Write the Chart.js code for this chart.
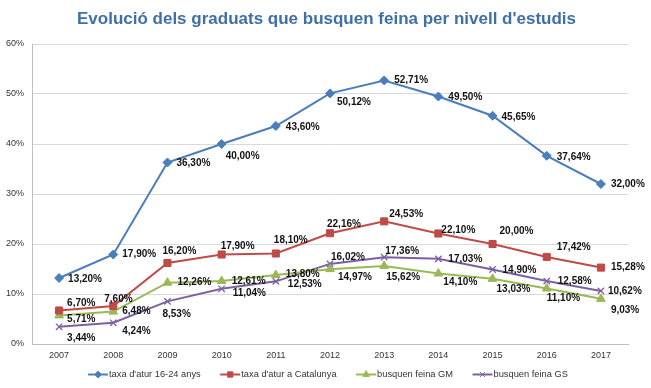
<!DOCTYPE html>
<html>
<head>
<meta charset="utf-8">
<script src="https://cdn.jsdelivr.net/npm/chart.js@4/dist/chart.umd.min.js"></script>
<style>
  html, body { margin: 0; padding: 0; background: #ffffff; }
  #wrap { width: 651px; height: 388px; position: relative; }
</style>
</head>
<body>
<div id="wrap"><canvas id="c" width="651" height="388"></canvas></div>
<script>
// ---- data ----
const years = ['2007','2008','2009','2010','2011','2012','2013','2014','2015','2016','2017'];
const atur1624 = [13.20, 17.90, 36.30, 40.00, 43.60, 50.12, 52.71, 49.50, 45.65, 37.64, 32.00];
const aturCat  = [6.70, 7.60, 16.20, 17.90, 18.10, 22.16, 24.53, 22.10, 20.00, 17.42, 15.28];
const feinaGM  = [5.71, 6.48, 12.26, 12.61, 13.80, 14.97, 15.62, 14.10, 13.03, 11.10, 9.03];
const feinaGS  = [3.44, 4.24, 8.53, 11.04, 12.53, 16.02, 17.36, 17.03, 14.90, 12.58, 10.62];
const seriesNames = ["taxa d'atur 16-24 anys", "taxa d'atur a Catalunya", "busquen feina GM", "busquen feina GS"];
const titleText = "Evolució dels graduats que busquen feina per nivell d'estudis";

// ---- label placement (style only: offset of label left edge / vertical centre from its point) ----
const labelOffsets = [
  [[9,1],[9,0],[9,1],[4,12],[10,1],[7,9],[10,0],[10,1],[9,1],[10,1],[10,0]],
  [[8,-7],[-9,-7],[-5,-12],[-1,-8],[-2,-13],[-3,-9],[5,-7],[3,-3],[7,-13],[10,-10],[10,0]],
  [[8,4],[9,0],[10,0],[10,0],[10,-1],[8,8],[2,11],[5,9],[4,10],[0,10],[10,11]],
  [[8,11],[9,8],[-5,13],[11,4],[12,3],[1,-7],[1,-6],[10,0],[10,1],[11,0],[7,0]]
];

const colors = ['#4a7ebb', '#be4b48', '#98b954', '#7d60a0'];
const pointStyles = ['rectRot', 'rect', 'triangle', 'crossRot'];
const pointRadii = [4.5, 5, 5, 4.5];
const seriesData = [atur1624, aturCat, feinaGM, feinaGS];

function fmt(v) { return v.toFixed(2).replace('.', ',') + '%'; }

const titlePlugin = {
  id: 'centredTitle',
  afterDraw(chart) {
    const ctx = chart.ctx;
    ctx.save();
    ctx.font = 'bold 17px "Liberation Sans", Arial, sans-serif';
    ctx.fillStyle = '#3f6fa8';
    ctx.textAlign = 'center';
    ctx.textBaseline = 'alphabetic';
    ctx.fillText(titleText, 326.5, 23.5);
    ctx.restore();
  }
};

const labelsPlugin = {
  id: 'pointLabels',
  afterDatasetsDraw(chart) {
    const ctx = chart.ctx;
    ctx.save();
    ctx.font = 'bold 10px "Liberation Sans", Arial, sans-serif';
    ctx.fillStyle = '#111111';
    ctx.textAlign = 'left';
    ctx.textBaseline = 'middle';
    chart.data.datasets.forEach((ds, di) => {
      const meta = chart.getDatasetMeta(di);
      meta.data.forEach((pt, i) => {
        const off = labelOffsets[di][i];
        ctx.fillText(fmt(ds.data[i]), pt.x + off[0], pt.y + off[1]);
      });
    });
    ctx.restore();
  }
};

const legendPlugin = {
  id: 'lineLegend',
  afterDraw(chart) {
    const ctx = chart.ctx;
    ctx.save();
    ctx.font = '9.3px "Liberation Sans", Arial, sans-serif';
    const sample = 20, gap = 19.5;
    const widths = chart.data.datasets.map(ds => ctx.measureText(ds.label).width);
    const total = widths.reduce((a, w) => a + sample + 1 + w, 0) + gap * (widths.length - 1);
    let x = 328 - total / 2;
    const y = 374.5;
    chart.data.datasets.forEach((ds, i) => {
      ctx.strokeStyle = ds.borderColor;
      ctx.fillStyle = ds.borderColor;
      ctx.lineWidth = 2;
      ctx.beginPath();
      ctx.moveTo(x, y);
      ctx.lineTo(x + sample, y);
      ctx.stroke();
      ctx.lineWidth = 1;
      Chart.helpers.drawPoint(ctx, {
        pointStyle: ds.pointStyle, radius: ds.pointRadius * 0.75,
        borderWidth: ds.pointStyle === 'crossRot' ? 1.2 : 1, rotation: 0
      }, x + sample / 2, y);
      ctx.fillStyle = '#333333';
      ctx.textAlign = 'left';
      ctx.textBaseline = 'middle';
      ctx.fillText(ds.label, x + sample + 1, y);
      x += sample + 1 + widths[i] + gap;
    });
    ctx.restore();
  }
};

new Chart(document.getElementById('c'), {
  type: 'line',
  data: {
    labels: years,
    datasets: seriesData.map((d, i) => ({
      label: seriesNames[i],
      data: d,
      borderColor: colors[i],
      backgroundColor: colors[i],
      borderWidth: 2,
      pointStyle: pointStyles[i],
      pointRadius: pointRadii[i],
      pointBorderWidth: pointStyles[i] === 'crossRot' ? 1.3 : 1,
      pointBackgroundColor: colors[i],
      pointBorderColor: colors[i],
      tension: 0,
      fill: false
    }))
  },
  options: {
    responsive: false,
    animation: false,
    layout: { padding: { left: 0, right: 23, top: 44, bottom: 22 } },
    plugins: {
      legend: { display: false },
      tooltip: { enabled: false },
      title: { display: false }
    },
    scales: {
      x: {
        offset: true,
        grid: { display: false, drawTicks: false },
        border: { display: true, color: '#bfbfbf', width: 1 },
        ticks: { color: '#333333', padding: 6, font: { family: '"Liberation Sans", Arial, sans-serif', size: 9 } },
        afterFit(scale) { scale.height = 22; }
      },
      y: {
        min: 0, max: 60,
        grid: { color: '#d9d9d9', lineWidth: 1, drawTicks: false },
        border: { display: true, color: '#bfbfbf', width: 1 },
        ticks: {
          stepSize: 10, padding: 8, color: '#333333',
          font: { family: '"Liberation Sans", Arial, sans-serif', size: 9 },
          callback: v => v + '%'
        },
        afterFit(scale) { scale.width = 32; }
      }
    }
  },
  plugins: [titlePlugin, labelsPlugin, legendPlugin]
});
</script>
</body>
</html>
